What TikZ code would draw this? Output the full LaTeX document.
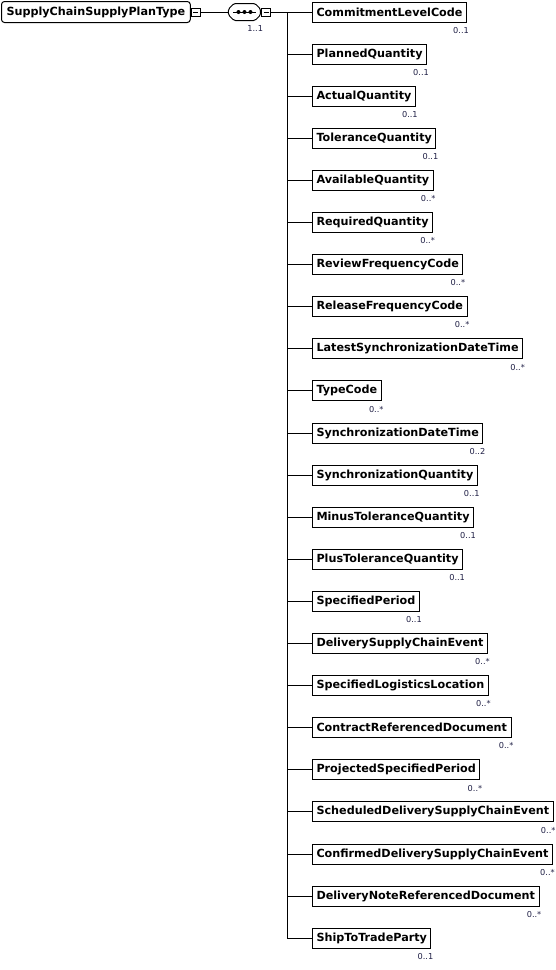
\documentclass[tikz,border=0pt]{standalone}
\usepackage{fontspec}
\setmainfont{DejaVu Sans}
\usetikzlibrary{positioning}
\definecolor{multText}{HTML}{1F1F45}
\tikzset{
  elem/.style={
    rectangle, draw=black, line width=1pt, fill=white,
    minimum height=20pt, inner xsep=4pt, inner ysep=0pt,
    font=\fontsize{11.2}{12}\selectfont\bfseries
  },
  root/.style={elem, rounded corners=3pt, minimum height=21pt, inner xsep=5pt},
  next/.style={elem, below=21.1pt of #1.south west, anchor=north west},
  mult/.style={font=\fontsize{8.2}{9}\selectfont, text=multText,
    inner sep=0pt, anchor=north east, xshift=2pt, yshift=-4.5pt},
  occ/.style={label={[mult]south east:#1}},
  toggle/.style={
    rectangle, draw=black, line width=1pt, fill=white,
    minimum width=9pt, minimum height=8pt, inner sep=0pt,
    path picture={\draw[line width=1pt]
      ([xshift=2pt]path picture bounding box.west) --
      ([xshift=-2pt]path picture bounding box.east);}
  },
  seqsym/.style={
    rectangle, minimum width=33pt, minimum height=18pt, inner sep=0pt,
    path picture={
      \draw[line width=1pt, rounded corners=1.5pt]
        ([xshift=0.5pt, yshift=3pt]path picture bounding box.west) --
        ([xshift=6pt, yshift=-0.5pt]path picture bounding box.north west) --
        ([xshift=-6pt, yshift=-0.5pt]path picture bounding box.north east) --
        ([xshift=-0.5pt, yshift=3pt]path picture bounding box.east) --
        ([xshift=-0.5pt, yshift=-3pt]path picture bounding box.east) --
        ([xshift=-6pt, yshift=0.5pt]path picture bounding box.south east) --
        ([xshift=6pt, yshift=0.5pt]path picture bounding box.south west) --
        ([xshift=0.5pt, yshift=-3pt]path picture bounding box.west) -- cycle;
      \draw[line width=1pt] ([xshift=5pt]path picture bounding box.west) --
        ([xshift=-5pt]path picture bounding box.east);
      \fill ([xshift=-6pt]path picture bounding box.center) circle (2pt);
      \fill (path picture bounding box.center) circle (2pt);
      \fill ([xshift=6pt]path picture bounding box.center) circle (2pt);
    }
  },
  link/.style={draw=black, line width=1pt}
}

\begin{document}
\begin{tikzpicture}[x=1pt, y=-1pt]
  \useasboundingbox (0,0) rectangle (556,970);

  % complex type and sequence
  \node[root, anchor=west]             (plan)    at (1,12) {SupplyChainSupplyPlanType};
  \node[toggle, right=0pt of plan]     (planTog) {};
  \node[seqsym, right=27pt of planTog, occ=1..1] (seq) {};
  \node[toggle, right=0pt of seq]      (seqTog)  {};

  % child elements
  \node[elem, anchor=west, occ=0..1] (commit)   at (312,12) {CommitmentLevelCode};
  \node[next=commit,   occ=0..1] (planned)  {PlannedQuantity};
  \node[next=planned,  occ=0..1] (actual)   {ActualQuantity};
  \node[next=actual,   occ=0..1] (tol)      {ToleranceQuantity};
  \node[next=tol,      occ=0..*] (avail)    {AvailableQuantity};
  \node[next=avail,    occ=0..*] (req)      {RequiredQuantity};
  \node[next=req,      occ=0..*] (review)   {ReviewFrequencyCode};
  \node[next=review,   occ=0..*] (release)  {ReleaseFrequencyCode};
  \node[next=release,  occ=0..*] (latest)   {LatestSynchronizationDateTime};
  \node[next=latest,   occ=0..*] (type)     {TypeCode};
  \node[next=type,     occ=0..2] (syncDT)   {SynchronizationDateTime};
  \node[next=syncDT,   occ=0..1] (syncQ)    {SynchronizationQuantity};
  \node[next=syncQ,    occ=0..1] (minusTol) {MinusToleranceQuantity};
  \node[next=minusTol, occ=0..1] (plusTol)  {PlusToleranceQuantity};
  \node[next=plusTol,  occ=0..1] (period)   {SpecifiedPeriod};
  \node[next=period,   occ=0..*] (delEv)    {DeliverySupplyChainEvent};
  \node[next=delEv,    occ=0..*] (logLoc)   {SpecifiedLogisticsLocation};
  \node[next=logLoc,   occ=0..*] (contract) {ContractReferencedDocument};
  \node[next=contract, occ=0..*] (projPer)  {ProjectedSpecifiedPeriod};
  \node[next=projPer,  occ=0..*] (schedEv)  {ScheduledDeliverySupplyChainEvent};
  \node[next=schedEv,  occ=0..*] (confEv)   {ConfirmedDeliverySupplyChainEvent};
  \node[next=confEv,   occ=0..*] (delNote)  {DeliveryNoteReferencedDocument};
  \node[next=delNote,  occ=0..1] (shipTo)   {ShipToTradeParty};

  % connectors
  \coordinate (trunk) at (287,12);
  \draw[link] (planTog) -- (seq);
  \draw[link] (seqTog) -- (commit);
  \draw[link] (trunk) |- (planned.west)  (trunk) |- (actual.west)
              (trunk) |- (tol.west)      (trunk) |- (avail.west)
              (trunk) |- (req.west)      (trunk) |- (review.west)
              (trunk) |- (release.west)  (trunk) |- (latest.west)
              (trunk) |- (type.west)     (trunk) |- (syncDT.west)
              (trunk) |- (syncQ.west)    (trunk) |- (minusTol.west)
              (trunk) |- (plusTol.west)  (trunk) |- (period.west)
              (trunk) |- (delEv.west)    (trunk) |- (logLoc.west)
              (trunk) |- (contract.west) (trunk) |- (projPer.west)
              (trunk) |- (schedEv.west)  (trunk) |- (confEv.west)
              (trunk) |- (delNote.west)  (trunk) |- (shipTo.west);
\end{tikzpicture}
\end{document}
